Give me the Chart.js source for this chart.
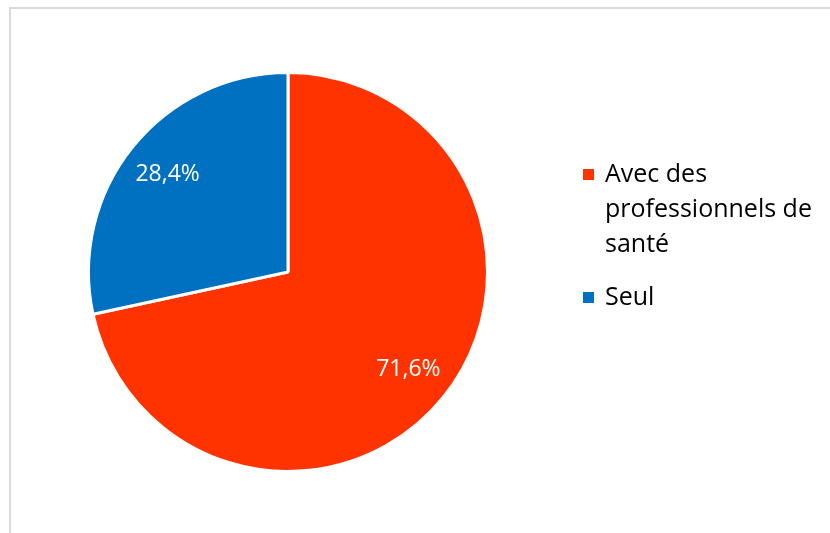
<!DOCTYPE html>
<html>
<head>
<meta charset="utf-8">
<script src="https://cdn.jsdelivr.net/npm/chart.js@4"></script>
<style>
  html, body { margin: 0; padding: 0; background: #fff; overflow: hidden; }
  #frame { position: absolute; left: 9px; top: 7px; width: 840px; height: 600px;
           border-left: 2px solid #d9d9d9; border-top: 2px solid #d9d9d9; }
  #myChart { position: absolute; left: 0; top: 0; }
</style>
</head>
<body>
<div id="frame"></div>
<canvas id="myChart" width="830" height="533"></canvas>
<script>
const categories = ['Avec des professionnels de santé', 'Seul'];
const values = [71.6, 28.4];
const colors = ['#FF3300', '#0070C0'];

const FONT = '"Open Sans", sans-serif';

// wrap a label into lines no wider than maxWidth
function wrapText(ctx, text, maxWidth) {
  const words = text.split(' ');
  const lines = [];
  let line = '';
  words.forEach((w) => {
    const test = line ? line + ' ' + w : w;
    if (line && ctx.measureText(test).width > maxWidth) {
      lines.push(line);
      line = w;
    } else {
      line = test;
    }
  });
  if (line) lines.push(line);
  return lines;
}

// percent labels inside the slices
const sliceLabels = {
  id: 'sliceLabels',
  afterDatasetsDraw(chart) {
    const ctx = chart.ctx;
    const meta = chart.getDatasetMeta(0);
    ctx.save();
    ctx.font = '23px ' + FONT;
    ctx.fillStyle = '#fff';
    ctx.textAlign = 'center';
    ctx.textBaseline = 'middle';
    meta.data.forEach((arc, i) => {
      const p = arc.getProps(['x', 'y', 'startAngle', 'endAngle', 'outerRadius'], true);
      const mid = (p.startAngle + p.endAngle) / 2;
      const r = p.outerRadius * 0.775;
      const text = values[i].toFixed(1).replace('.', ',') + '%';
      ctx.fillText(text, p.x + Math.cos(mid) * r, p.y + Math.sin(mid) * r);
    });
    ctx.restore();
  },
};

// legend on the right, with wrapped labels
const sideLegend = {
  id: 'sideLegend',
  afterDraw(chart) {
    const ctx = chart.ctx;
    ctx.save();
    ctx.font = '25px ' + FONT;
    ctx.textAlign = 'left';
    ctx.textBaseline = 'middle';
    const lineHeight = 35;
    let y = 175;
    categories.forEach((label, i) => {
      ctx.fillStyle = colors[i];
      ctx.fillRect(583, y - 6, 11, 11);
      ctx.fillStyle = '#000';
      const lines = wrapText(ctx, label, 222);
      lines.forEach((l, k) => ctx.fillText(l, 605, y + k * lineHeight));
      y += lines.length * lineHeight + 18;
    });
    ctx.restore();
  },
};

const chart = new Chart(document.getElementById('myChart'), {
  type: 'pie',
  data: {
    labels: categories,
    datasets: [
      {
        data: values,
        backgroundColor: colors,
        borderColor: '#fff',
        borderWidth: 3,
      },
    ],
  },
  options: {
    responsive: false,
    animation: false,
    layout: { padding: { left: 87, top: 71, right: 341, bottom: 60 } },
    plugins: {
      legend: { display: false },
      tooltip: { enabled: false },
    },
  },
  plugins: [sliceLabels, sideLegend],
});
</script>
</body>
</html>
